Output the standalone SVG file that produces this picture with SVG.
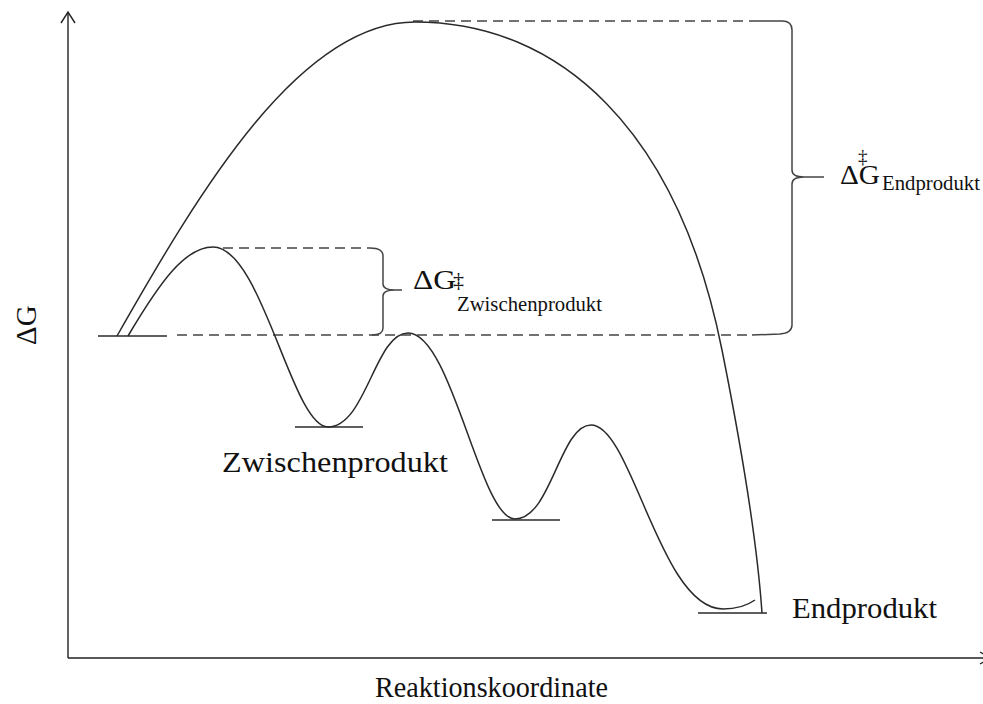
<svg xmlns="http://www.w3.org/2000/svg" width="983" height="704" viewBox="0 0 983 704">
  <style>
    .ax { fill: none; stroke: #222; stroke-width: 1.4; }
    .curve { fill: none; stroke: #2a2a2a; stroke-width: 1.5; }
    .level { fill: none; stroke: #2a2a2a; stroke-width: 1.5; }
    .dash { fill: none; stroke: #444; stroke-width: 1.5; stroke-dasharray: 10 6; }
    .brace { fill: none; stroke: #444; stroke-width: 1.5; }
    text { font-family: "Liberation Serif", "Times New Roman", serif; fill: #111; }
  </style>
  <rect width="983" height="704" fill="#fff"/>

  <!-- axes -->
  <g id="axes">
    <line class="ax" x1="68" y1="658" x2="68" y2="13"/>
    <polyline class="ax" points="61,23 68,12 75,23"/>
    <line class="ax" x1="68" y1="658" x2="990" y2="658"/>
    <polyline class="ax" points="980,652 990,658 980,664"/>
    <text x="0" y="0" font-size="29" transform="translate(36,345) rotate(-90)">ΔG</text>
    <text x="375" y="697" font-size="29" textLength="233" lengthAdjust="spacingAndGlyphs">Reaktionskoordinate</text>
  </g>

  <!-- reference levels and barrier braces -->
  <g id="connectors">
    <line class="level" x1="98" y1="336" x2="167" y2="336"/>
    <line class="dash" x1="177" y1="335" x2="752" y2="335"/>
    <line class="dash" x1="223" y1="248" x2="370" y2="248"/>
    <line class="dash" x1="413" y1="21" x2="757" y2="21"/>
    <line class="level" x1="295" y1="427" x2="363" y2="427"/>
    <line class="level" x1="492" y1="520" x2="560" y2="520"/>
    <line class="level" x1="698" y1="613" x2="767" y2="613"/>
  </g>

  <g id="brace-intermediate">
    <path class="brace" d="M370,248 Q383,248 383,256 L383,284 Q383,290 395,290 L402,290 M395,290 Q383,290 383,296 L383,328 Q383,335 372,335"/>
    <text x="413" y="289" font-size="27" textLength="43" lengthAdjust="spacingAndGlyphs">ΔG</text>
    <text x="453" y="287" font-size="22">‡</text>
    <text x="457" y="311" font-size="21" textLength="145" lengthAdjust="spacingAndGlyphs">Zwischenprodukt</text>
  </g>

  <g id="brace-product">
    <path class="brace" d="M757,21 L782,21 Q792,21 792,30 L792,170 Q792,177 804,177 L824,177 M804,177 Q792,177 792,184 L792,325 Q792,333 780,334 L752,335"/>
    <text x="840" y="184" font-size="28" textLength="40" lengthAdjust="spacingAndGlyphs">ΔG</text>
    <text x="858" y="163" font-size="19">‡</text>
    <text x="882" y="190" font-size="21" textLength="98" lengthAdjust="spacingAndGlyphs">Endprodukt</text>
  </g>

  <!-- direct path to the end product -->
  <g id="path-direct">
    <path class="curve" d="M117,336 C200,190 300,22 415,22 C560,22 678,130 722,350 C743,455 757,540 762,613"/>
  </g>

  <!-- stepwise path via intermediates -->
  <g id="path-stepwise">
    <path class="curve" d="M128,336 C160,282 185,247 213,247 C262,247 292,427 328,427 C366,427 375,333 408,333 C452,333 480,519 515,519 C551,519 560,425 591,425 C632,425 660,609 723,609 C738,609 748,605 755,600"/>
  </g>

  <g id="label-intermediate">
    <text x="222" y="472" font-size="29" textLength="226" lengthAdjust="spacingAndGlyphs">Zwischenprodukt</text>
  </g>
  <g id="label-product">
    <text x="792" y="618" font-size="29" textLength="145" lengthAdjust="spacingAndGlyphs">Endprodukt</text>
  </g>
</svg>
